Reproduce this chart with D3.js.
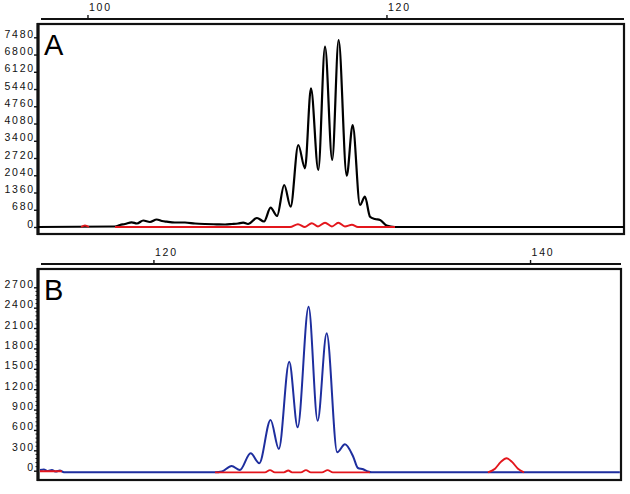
<!DOCTYPE html>
<html>
<head>
<meta charset="utf-8">
<script src="https://cdn.jsdelivr.net/npm/d3@7/dist/d3.min.js"></script>
<style>
  html, body { margin: 0; padding: 0; background: #fff; }
  svg { display: block; }
  .tick text { font-family: "Liberation Sans", Arial, sans-serif; font-size: 10.5px; letter-spacing: 1.8px; fill: #111; }
</style>
</head>
<body>
<svg id="chart" width="630" height="494"></svg>
<script>
// ---------- Data ----------
const panelLabels = ["A", "B"];

// Panel A
const aTopTicks = [100, 120];
const aYTicks = [0, 680, 1360, 2040, 2720, 3400, 4080, 4760, 5440, 6120, 6800, 7480];
const aBlackX = [96.69, 101.84, 102.17, 102.51, 102.96, 103.31, 103.73, 104.18, 104.63, 104.98, 105.30, 105.85, 106.52, 107.19, 107.86, 108.64, 109.20, 109.67, 110.07, 110.42, 110.74, 111.34, 111.81, 112.25, 112.68, 113.16, 113.59, 114.10, 114.55, 114.95, 115.44, 115.89, 116.37, 116.80, 117.34, 117.74, 118.23, 118.56, 118.90, 119.23, 119.57, 120.01, 120.57, 135.89];
const aBlackY = [0, 20, 79, 118, 185, 138, 256, 197, 296, 237, 209, 177, 177, 138, 118, 106, 99, 118, 138, 170, 118, 355, 217, 761, 434, 1656, 800, 3233, 2315, 5469, 2248, 7109, 2642, 7373, 2023, 4022, 867, 1195, 406, 315, 276, 59, 0, 0];
const aRedX = [99.57, 99.83, 100.10, null, 101.84, 113.55, 114.08, 114.55, 115.00, 115.42, 115.89, 116.35, 116.78, 117.22, 117.69, 118.09, 120.57];
const aRedY = [0, 60, 0, null, 0, 0, 110, 0, 150, 20, 170, 20, 170, 20, 90, 0, 0];

// Panel B
const bTopTicks = [120, 140];
const bYTicks = [0, 300, 600, 900, 1200, 1500, 1800, 2100, 2400, 2700];
const bBlueX = [113.97, 114.18, 114.40, 114.61, 114.82, 115.03, 115.25, 123.27, 123.64, 124.15, 124.59, 125.16, 125.62, 126.22, 126.66, 127.21, 127.66, 128.24, 128.72, 129.20, 129.76, 130.17, 130.61, 130.86, 131.14, 131.39, 131.59, 144.77];
const bBlueY = [10, 18, -5, 10, -12, 3, -24, -24, -12, 69, 10, 256, 109, 746, 319, 1604, 639, 2414, 736, 2022, 271, 389, 206, 40, 21, -12, -24, -24];
const bRedX = [113.97, 115.14, null, 123.27, 125.92, 126.19, 126.45, 126.93, 127.16, 127.36, 127.83, 128.10, 128.36, 128.95, 129.25, 129.53, 131.50, null, 137.76, 138.14, 138.45, 138.76, 139.04, 139.36, 139.68];
const bRedY = [-8, -8, null, -24, -24, 8, -24, -24, 4, -24, -24, 8, -24, -24, 8, -24, -24, null, -24, 30, 130, 183, 130, 30, -24];

// ---------- Drawing ----------
const svg = d3.select("#chart");
const font = '"Liberation Sans", Arial, sans-serif';

function panel(cfg) {
  const g = svg.append("g");
  const x = d3.scaleLinear().domain(cfg.xDomain).range([cfg.left, cfg.right]);
  const y = d3.scaleLinear().domain([0, cfg.yTicks[cfg.yTicks.length - 1]]).range([cfg.y0, cfg.yTop]);

  // top axis
  const top = g.append("g").attr("transform", `translate(0,${cfg.axisY})`)
    .call(d3.axisTop(x).tickValues(cfg.topTicks).tickSize(4).tickSizeOuter(0).tickFormat(d3.format("d")));
  top.select(".domain").attr("stroke", "#111").attr("stroke-width", 1.8)
    .attr("d", `M${cfg.left + 3},0H${cfg.right}`);
  top.selectAll(".tick line").attr("stroke", "#111").attr("stroke-width", 1.4);
  top.selectAll(".tick text").attr("text-anchor", "start").attr("x", 1).attr("y", -8).attr("dy", 0);

  // frame
  g.append("rect").attr("x", cfg.left).attr("y", cfg.boxTop)
    .attr("width", cfg.right - cfg.left).attr("height", cfg.boxBottom - cfg.boxTop)
    .attr("fill", "none").attr("stroke", "#111").attr("stroke-width", 2.2);
  g.append("line").attr("x1", cfg.left).attr("x2", cfg.left)
    .attr("y1", cfg.boxTop - 1).attr("y2", cfg.boxBottom + 1)
    .attr("stroke", "#111").attr("stroke-width", 3.2);

  // left axis
  const left = g.append("g").attr("transform", `translate(${cfg.left},0)`)
    .call(d3.axisLeft(y).tickValues(cfg.yTicks).tickSize(4).tickSizeOuter(0).tickPadding(3).tickFormat(d3.format("d")));
  left.select(".domain").remove();
  left.selectAll(".tick line").attr("stroke", "#111").attr("stroke-width", 1.4);
  left.selectAll(".tick text").attr("dy", "0.0em").attr("x", -3);

  if (cfg.minor) {
    const step = cfg.yTicks[1] - cfg.yTicks[0];
    const minors = [];
    for (let i = 0; i < cfg.yTicks.length - 1; i++) {
      for (let k = 1; k < 5; k++) minors.push(cfg.yTicks[i] + step * k / 5);
    }
    g.append("g").selectAll("line").data(minors).join("line")
      .attr("x1", cfg.left - 2.5).attr("x2", cfg.left)
      .attr("y1", d => y(d)).attr("y2", d => y(d))
      .attr("stroke", "#111").attr("stroke-width", 1);
  }

  // panel letter
  g.append("text").attr("x", cfg.left + 6).attr("y", cfg.boxTop + 31)
    .attr("font-family", font).attr("font-size", 29).attr("fill", "#000").text(cfg.label);

  const line = d3.line().defined(d => d[0] !== null && d[1] !== null)
    .x(d => x(d[0])).y(d => y(d[1])).curve(d3.curveMonotoneX);

  cfg.series.forEach(s => {
    const pts = s.xs.map((v, i) => [v, s.ys[i]]);
    g.append("path").attr("d", line(pts)).attr("fill", "none")
      .attr("stroke", s.color).attr("stroke-width", s.width).attr("stroke-linejoin", "round");
  });
}

panel({
  label: panelLabels[0],
  xDomain: [96.69, 135.89], left: 38, right: 624,
  axisY: 19, boxTop: 24, boxBottom: 234,
  y0: 227, yTop: 37.3,
  topTicks: aTopTicks, yTicks: aYTicks, minor: false,
  series: [
    { xs: aBlackX, ys: aBlackY, color: "#000", width: 2.2 },
    { xs: aRedX, ys: aRedY, color: "#e3161c", width: 1.9 }
  ]
});

panel({
  label: panelLabels[1],
  xDomain: [113.87, 144.83], left: 38, right: 621,
  axisY: 264, boxTop: 269, boxBottom: 480,
  y0: 470.7, yTop: 287.3,
  topTicks: bTopTicks, yTicks: bYTicks, minor: true,
  series: [
    { xs: bBlueX, ys: bBlueY, color: "#1e2e9e", width: 2 },
    { xs: bRedX, ys: bRedY, color: "#e3161c", width: 1.9 }
  ]
});
</script>
</body>
</html>
